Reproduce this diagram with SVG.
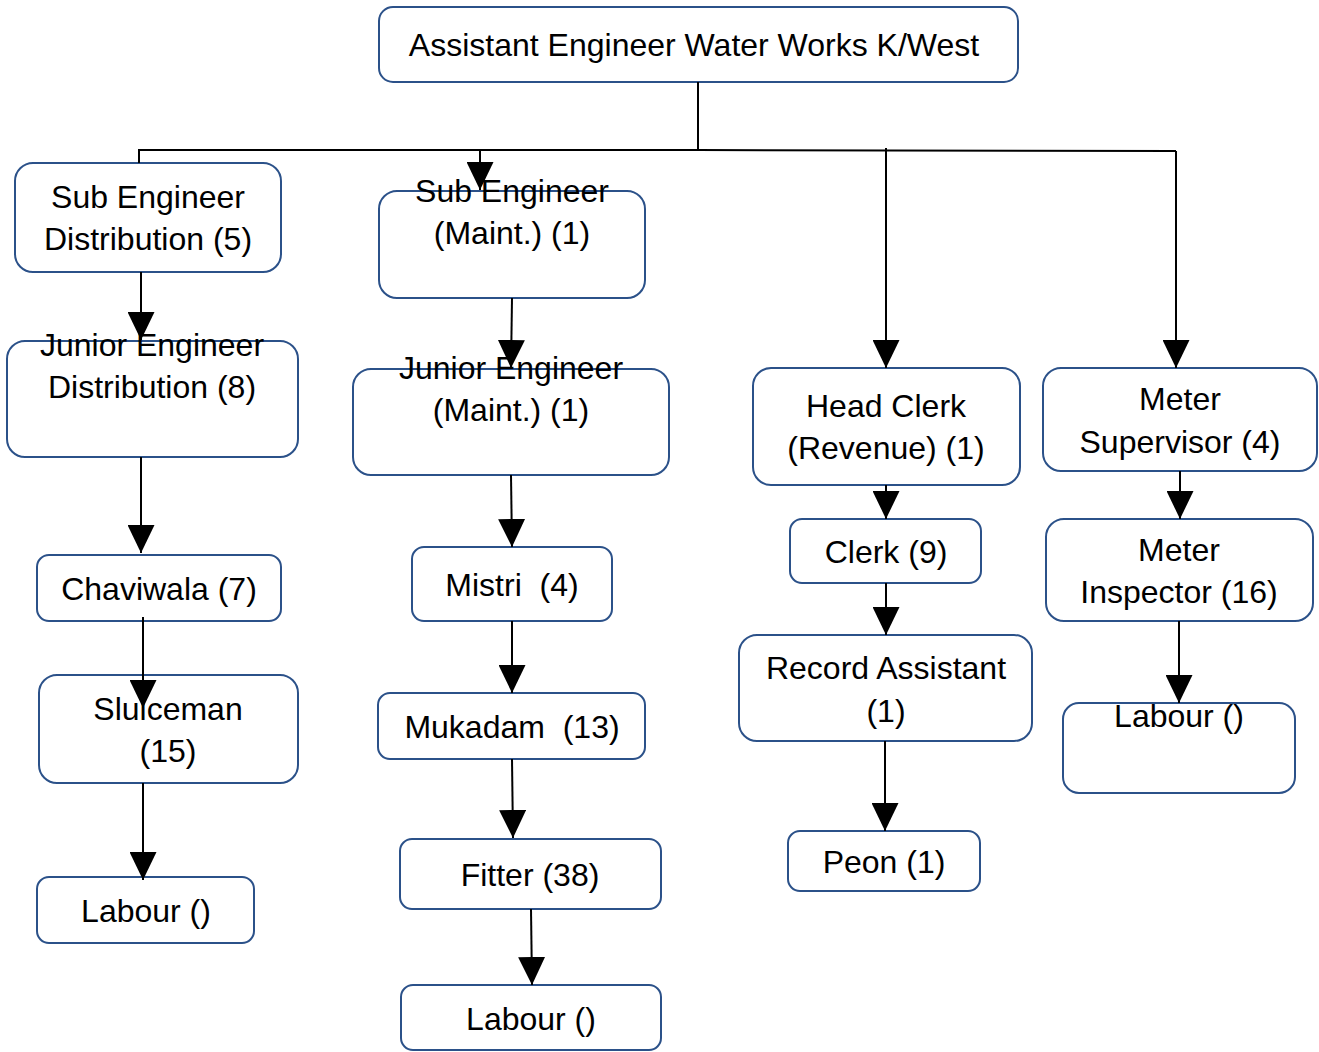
<svg xmlns="http://www.w3.org/2000/svg" width="1319" height="1052" viewBox="0 0 1319 1052">
  <style>
    .box { fill: #ffffff; stroke: #2b5189; stroke-width: 2; }
    .lbl { font-family: "Liberation Sans", Arial, sans-serif; font-size: 32px; fill: #000000; text-anchor: middle; white-space: pre; }
    .wire { fill: none; stroke: #000000; stroke-width: 2; }
    .arr { fill: none; stroke: #000000; stroke-width: 2; marker-end: url(#head); }
  </style>
  <defs>
    <marker id="head" markerUnits="userSpaceOnUse" markerWidth="28" markerHeight="27" refX="28" refY="13.5" orient="auto">
      <path d="M0,0 L28,13.5 L0,27 Z" fill="#000000"/>
    </marker>
  </defs>
  <rect width="1319" height="1052" fill="#ffffff"/>

  <g id="nodes">
    <g id="ae-water-works">
      <rect class="box" x="379" y="7" width="639" height="75" rx="14"/>
      <text class="lbl" x="694" y="56">Assistant Engineer Water Works K/West</text>
    </g>
    <g id="se-distribution">
      <rect class="box" x="15" y="163" width="266" height="109" rx="18"/>
      <text class="lbl" x="148" y="208">Sub Engineer</text>
      <text class="lbl" x="148" y="250">Distribution (5)</text>
    </g>
    <g id="se-maint">
      <rect class="box" x="379" y="191" width="266" height="107" rx="18"/>
      <text class="lbl" x="512" y="202">Sub Engineer</text>
      <text class="lbl" x="512" y="244">(Maint.) (1)</text>
    </g>
    <g id="je-distribution">
      <rect class="box" x="7" y="341" width="291" height="116" rx="18"/>
      <text class="lbl" x="152" y="356">Junior Engineer</text>
      <text class="lbl" x="152" y="398">Distribution (8)</text>
    </g>
    <g id="je-maint">
      <rect class="box" x="353" y="369" width="316" height="106" rx="18"/>
      <text class="lbl" x="511" y="379">Junior Engineer</text>
      <text class="lbl" x="511" y="421">(Maint.) (1)</text>
    </g>
    <g id="head-clerk">
      <rect class="box" x="753" y="368" width="267" height="117" rx="18"/>
      <text class="lbl" x="886" y="417">Head Clerk</text>
      <text class="lbl" x="886" y="459">(Revenue) (1)</text>
    </g>
    <g id="meter-supervisor">
      <rect class="box" x="1043" y="368" width="274" height="103" rx="18"/>
      <text class="lbl" x="1180" y="410">Meter</text>
      <text class="lbl" x="1180" y="453">Supervisor (4)</text>
    </g>
    <g id="chaviwala">
      <rect class="box" x="37" y="555" width="244" height="66" rx="12"/>
      <text class="lbl" x="159" y="600">Chaviwala (7)</text>
    </g>
    <g id="mistri">
      <rect class="box" x="412" y="547" width="200" height="74" rx="12"/>
      <text class="lbl" x="512" y="596">Mistri  (4)</text>
    </g>
    <g id="clerk">
      <rect class="box" x="790" y="519" width="191" height="64" rx="12"/>
      <text class="lbl" x="886" y="563">Clerk (9)</text>
    </g>
    <g id="meter-inspector">
      <rect class="box" x="1046" y="519" width="267" height="102" rx="18"/>
      <text class="lbl" x="1179" y="561">Meter</text>
      <text class="lbl" x="1179" y="603">Inspector (16)</text>
    </g>
    <g id="sluiceman">
      <rect class="box" x="39" y="675" width="259" height="108" rx="18"/>
      <text class="lbl" x="168" y="720">Sluiceman</text>
      <text class="lbl" x="168" y="762">(15)</text>
    </g>
    <g id="mukadam">
      <rect class="box" x="378" y="693" width="267" height="66" rx="12"/>
      <text class="lbl" x="512" y="738">Mukadam  (13)</text>
    </g>
    <g id="record-assistant">
      <rect class="box" x="739" y="635" width="293" height="106" rx="18"/>
      <text class="lbl" x="886" y="679">Record Assistant</text>
      <text class="lbl" x="886" y="722">(1)</text>
    </g>
    <g id="labour-meter">
      <rect class="box" x="1063" y="703" width="232" height="90" rx="16"/>
      <text class="lbl" x="1179" y="727">Labour ()</text>
    </g>
    <g id="labour-sluice">
      <rect class="box" x="37" y="877" width="217" height="66" rx="12"/>
      <text class="lbl" x="146" y="922">Labour ()</text>
    </g>
    <g id="fitter">
      <rect class="box" x="400" y="839" width="261" height="70" rx="12"/>
      <text class="lbl" x="530" y="886">Fitter (38)</text>
    </g>
    <g id="peon">
      <rect class="box" x="788" y="831" width="192" height="60" rx="12"/>
      <text class="lbl" x="884" y="873">Peon (1)</text>
    </g>
    <g id="labour-fitter">
      <rect class="box" x="401" y="985" width="260" height="65" rx="12"/>
      <text class="lbl" x="531" y="1030">Labour ()</text>
    </g>
  </g>

  <g id="connectors">
    <!-- trunk and distribution bar -->
    <polyline class="wire" points="698,82 698,150"/>
    <polyline class="wire" points="139,163 139,150 698,150 1176,151"/>
    <line class="arr" x1="480" y1="150" x2="480" y2="190"/>
    <line class="arr" x1="886" y1="148" x2="886" y2="368"/>
    <line class="arr" x1="1176" y1="151" x2="1176" y2="368"/>
    <!-- distribution column -->
    <line class="arr" x1="141" y1="272" x2="141" y2="340"/>
    <line class="arr" x1="141" y1="457" x2="141" y2="553"/>
    <line class="arr" x1="143" y1="617" x2="143" y2="708"/>
    <line class="arr" x1="143" y1="783" x2="143" y2="880"/>
    <!-- maintenance column -->
    <line class="arr" x1="512" y1="298" x2="511" y2="368"/>
    <line class="arr" x1="511" y1="475" x2="512" y2="547"/>
    <line class="arr" x1="512" y1="621" x2="512" y2="693"/>
    <line class="arr" x1="512" y1="759" x2="513" y2="838"/>
    <line class="arr" x1="531" y1="909" x2="532" y2="985"/>
    <!-- revenue column -->
    <line class="arr" x1="886" y1="485" x2="886" y2="519"/>
    <line class="arr" x1="886" y1="583" x2="886" y2="635"/>
    <line class="arr" x1="885" y1="741" x2="885" y2="831"/>
    <!-- meter column -->
    <line class="arr" x1="1180" y1="471" x2="1180" y2="519"/>
    <line class="arr" x1="1179" y1="621" x2="1179" y2="703"/>
  </g>
</svg>
